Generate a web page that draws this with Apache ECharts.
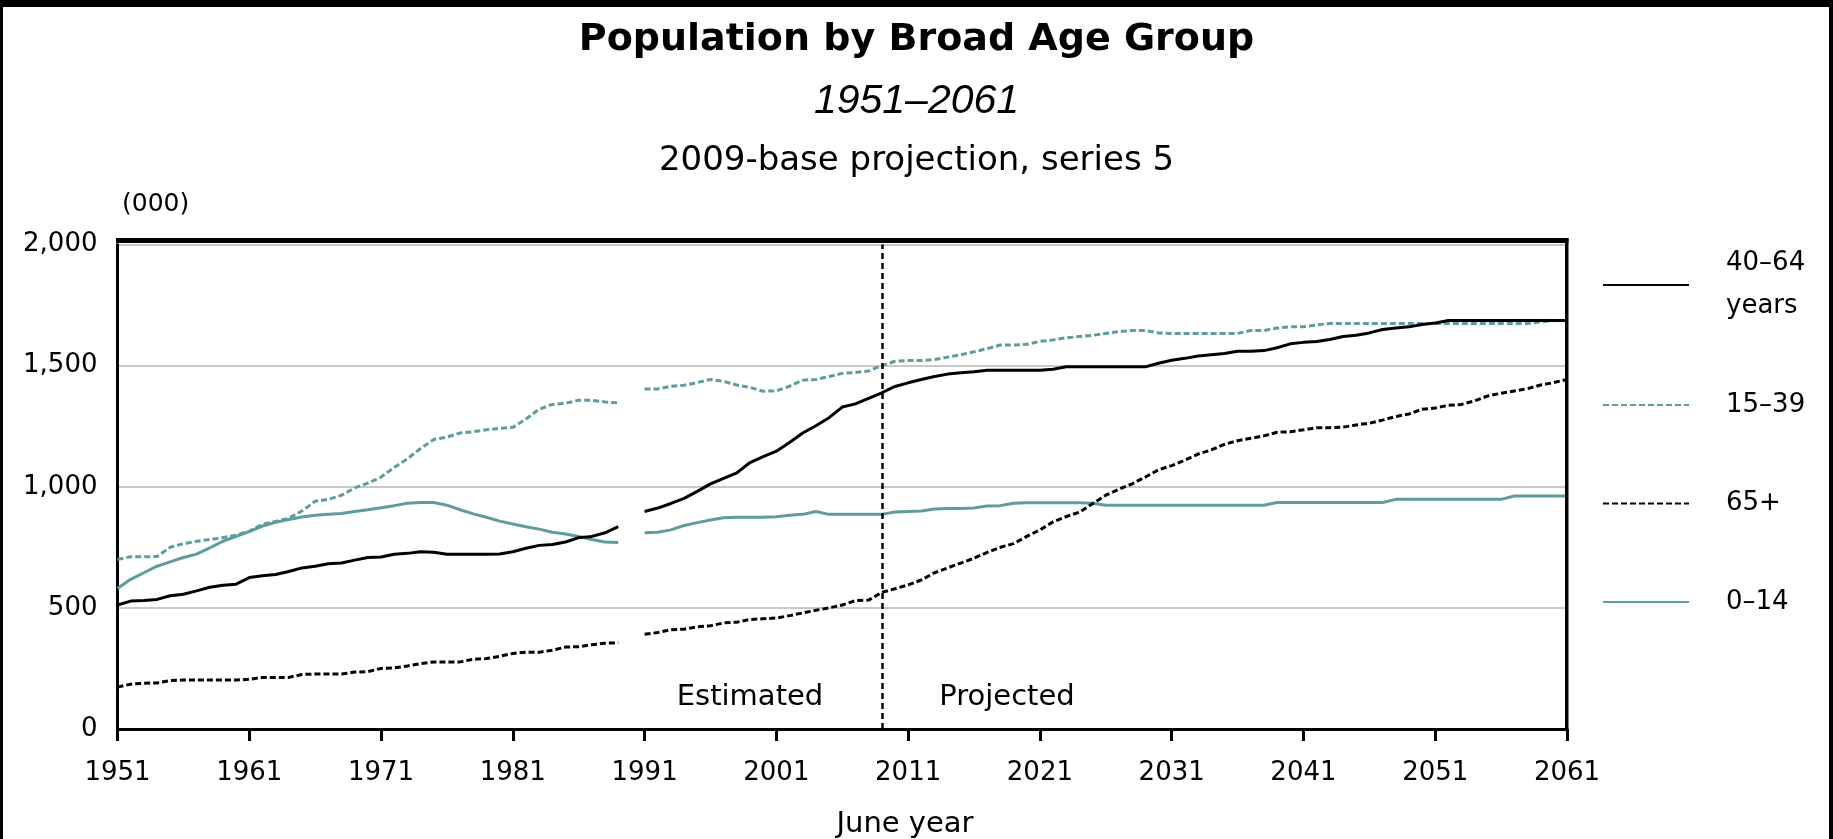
<!DOCTYPE html>
<html>
<head>
<meta charset="utf-8">
<script src="https://cdn.jsdelivr.net/npm/echarts@6/dist/echarts.min.js"></script>
<style>
html,body{margin:0;padding:0;background:#fff;}
#chart{width:1833px;height:839px;}
</style>
</head>
<body>
<div id="chart"></div>
<script>
// ---- data (thousands), June years 1951–2061; 1990 is a break in the series ----
var FIRST_YEAR = 1951;
var LAST_YEAR = 2061;
var years = [];
for (var y = FIRST_YEAR; y <= LAST_YEAR; y++) years.push(String(y));

var seriesNames = ['40–64 years', '15–39', '65+', '0–14'];

var age40to64 = [
  512, 528, 530, 535, 550, 556, 570, 585, 593, 598,
  625, 633, 638, 650, 665, 672, 682, 685, 697, 708,
  710, 721, 725, 732, 730, 721, 721, 721, 721, 722,
  732, 746, 758, 762, 772, 790, 795, 810, 835, null,
  898, 912, 931, 952, 981, 1012, 1035, 1057, 1100, 1124,
  1147, 1183, 1222, 1252, 1285, 1329, 1342, 1365, 1388, 1414,
  1429, 1443, 1455, 1465, 1471, 1475, 1481, 1481, 1481, 1481,
  1481, 1485, 1495, 1495, 1495, 1495, 1495, 1495, 1495, 1510,
  1522, 1530, 1540, 1545, 1550, 1559, 1559, 1562, 1574, 1590,
  1596, 1600, 1608, 1620, 1625, 1635, 1649, 1655, 1660, 1670,
  1676, 1686, 1686, 1686, 1686, 1686, 1686, 1686, 1686, 1686,
  1686
];

var age15to39 = [
  700, 711, 711, 712, 750, 765, 775, 782, 790, 800,
  817, 845, 857, 870, 900, 940, 948, 965, 995, 1015,
  1040, 1080, 1115, 1158, 1195, 1205, 1222, 1227, 1235, 1241,
  1245, 1280, 1320, 1340, 1345, 1357, 1357, 1350, 1346, null,
  1404, 1404, 1415, 1419, 1430, 1443, 1435, 1420, 1410, 1394,
  1396, 1415, 1440, 1443, 1455, 1468, 1472, 1478, 1500, 1518,
  1521, 1521, 1525, 1535, 1545, 1557, 1570, 1585, 1585, 1588,
  1600, 1606, 1615, 1620, 1625, 1633, 1640, 1645, 1645, 1635,
  1633, 1633, 1633, 1633, 1633, 1633, 1645, 1645, 1655, 1660,
  1660, 1668, 1674, 1674, 1674, 1674, 1674, 1674, 1674, 1674,
  1674, 1674, 1674, 1674, 1674, 1674, 1674, 1674, 1680, 1686,
  1686
];

var age65plus = [
  173, 185, 189, 190, 200, 202, 202, 202, 202, 202,
  205, 213, 213, 213, 225, 227, 227, 227, 235, 237,
  250, 252, 260, 270, 277, 277, 277, 288, 291, 300,
  312, 317, 317, 325, 338, 340, 348, 354, 356, null,
  391, 398, 410, 412, 422, 426, 438, 441, 452, 455,
  458, 468, 479, 490, 500, 512, 530, 532, 564, 579,
  595, 615, 645, 665, 685, 705, 729, 750, 765, 795,
  822, 855, 877, 895, 930, 965, 990, 1012, 1040, 1070,
  1087, 1110, 1135, 1152, 1175, 1190, 1200, 1210, 1225, 1227,
  1235, 1244, 1244, 1246, 1255, 1262, 1275, 1290, 1300, 1320,
  1325, 1336, 1340, 1355, 1375, 1386, 1395, 1405, 1420, 1430,
  1443
];

var age0to14 = [
  580, 618, 645, 672, 690, 708, 722, 748, 775, 795,
  815, 838, 853, 865, 875, 882, 886, 890, 898, 905,
  913, 922, 932, 935, 935, 924, 905, 888, 874, 858,
  846, 835, 825, 812, 805, 795, 782, 772, 770, null,
  810, 812, 822, 840, 852, 863, 872, 874, 874, 874,
  876, 882, 886, 898, 886, 886, 886, 886, 886, 896,
  898, 900, 908, 910, 910, 912, 921, 922, 932, 934,
  934, 934, 934, 934, 932, 924, 924, 924, 924, 924,
  924, 924, 924, 924, 924, 924, 924, 924, 935, 935,
  935, 935, 935, 935, 935, 935, 935, 948, 948, 948,
  948, 948, 948, 948, 948, 948, 962, 962, 962, 962,
  962
];

var baseYear = '2009';
var yTicks = [0, 500, 1000, 1500, 2000];

// ---- styling ----
var TEAL = '#5f9c9c';
var BLACK = '#000000';
var FONT = 'DejaVu Sans';

var chart = echarts.init(document.getElementById('chart'), null, {renderer: 'canvas'});

function fmtThousands(v) {
  return String(v).replace(/\B(?=(\d{3})+(?!\d))/g, ',');
}

var option = {
  animation: false,
  backgroundColor: '#ffffff',
  title: [
    {
      text: 'Population by Broad Age Group',
      left: 'center', top: 16,
      textStyle: {fontFamily: FONT, fontWeight: 'bold', fontSize: 38, color: BLACK}
    },
    {
      text: '1951–2061',
      left: 'center', top: 76,
      textStyle: {fontFamily: 'Liberation Sans', fontStyle: 'italic', fontWeight: 'normal', fontSize: 41, color: BLACK}
    },
    {
      text: '2009-base projection, series 5',
      left: 'center', top: 139,
      textStyle: {fontFamily: FONT, fontWeight: 'normal', fontSize: 34, color: BLACK}
    }
  ],
  grid: {left: 117.5, right: 266, top: 244.5, bottom: 110, containLabel: false},
  legend: {
    orient: 'vertical',
    left: 1602, top: 242,
    padding: 0,
    itemWidth: 86, itemHeight: 14,
    itemGap: 55.5,
    data: seriesNames,
    selectedMode: false,
    itemStyle: {opacity: 0},
    formatter: function (name) { return name.replace(' years', '\nyears'); },
    textStyle: {fontFamily: FONT, fontSize: 26, color: BLACK, lineHeight: 43, padding: [0, 0, 0, 32]}
  },
  xAxis: {
    type: 'category',
    data: years,
    boundaryGap: false,
    axisLine: {show: true, lineStyle: {color: BLACK, width: 3}},
    axisTick: {show: true, interval: 9, length: 12, lineStyle: {color: BLACK, width: 3}},
    axisLabel: {interval: 9, margin: 31, fontFamily: FONT, fontSize: 26, color: BLACK},
    splitLine: {show: false}
  },
  yAxis: {
    type: 'value',
    min: yTicks[0], max: yTicks[yTicks.length - 1], interval: yTicks[1] - yTicks[0],
    axisLine: {show: true, lineStyle: {color: BLACK, width: 3}},
    axisTick: {show: false},
    axisLabel: {margin: 20, fontFamily: FONT, fontSize: 26, color: BLACK, formatter: fmtThousands},
    splitLine: {show: true, lineStyle: {color: '#c8c8c8', width: 2}}
  },
  series: [
    {
      name: seriesNames[3], type: 'line', data: age0to14, symbol: 'none', connectNulls: false,
      lineStyle: {color: TEAL, width: 3, type: 'solid'}, itemStyle: {color: TEAL}, z: 2
    },
    {
      name: seriesNames[1], type: 'line', data: age15to39, symbol: 'none', connectNulls: false,
      lineStyle: {color: TEAL, width: 3, type: [6, 3]}, itemStyle: {color: TEAL}, z: 3
    },
    {
      name: seriesNames[2], type: 'line', data: age65plus, symbol: 'none', connectNulls: false,
      lineStyle: {color: BLACK, width: 3, type: [6, 3]}, itemStyle: {color: BLACK}, z: 4
    },
    {
      name: seriesNames[0], type: 'line', data: age40to64, symbol: 'none', connectNulls: false,
      lineStyle: {color: BLACK, width: 3, type: 'solid'}, itemStyle: {color: BLACK}, z: 5,
      markLine: {
        silent: true, symbol: 'none', animation: false,
        label: {show: false},
        lineStyle: {color: BLACK, width: 2.5, type: [6, 4]},
        data: [{xAxis: baseYear}]
      }
    }
  ],
  graphic: [
    // outer picture frame
    {type: 'rect', shape: {x: 0, y: 0, width: 1833, height: 7}, style: {fill: BLACK}, silent: true},
    {type: 'rect', shape: {x: 0, y: 0, width: 3, height: 839}, style: {fill: BLACK}, silent: true},
    {type: 'rect', shape: {x: 1829, y: 0, width: 4, height: 839}, style: {fill: BLACK}, silent: true},
    // plot frame top and right
    {type: 'rect', shape: {x: 116, y: 238, width: 1452.5, height: 5}, style: {fill: BLACK}, silent: true, z: 10},
    {type: 'rect', shape: {x: 1565, y: 238, width: 3.5, height: 492}, style: {fill: BLACK}, silent: true, z: 10},
    // texts
    {type: 'text', style: {text: '(000)', x: 122, y: 204, textVerticalAlign: 'middle', font: '25px "DejaVu Sans"', fill: BLACK}, silent: true},
    {type: 'text', style: {text: 'Estimated', x: 750, y: 697, textAlign: 'center', textVerticalAlign: 'middle', font: '29px "DejaVu Sans"', fill: BLACK}, silent: true},
    {type: 'text', style: {text: 'Projected', x: 1007, y: 697, textAlign: 'center', textVerticalAlign: 'middle', font: '29px "DejaVu Sans"', fill: BLACK}, silent: true},
    {type: 'text', style: {text: 'June year', x: 905, y: 824, textAlign: 'center', textVerticalAlign: 'middle', font: '29px "DejaVu Sans"', fill: BLACK}, silent: true}
  ]
};

chart.setOption(option);
</script>
</body>
</html>
